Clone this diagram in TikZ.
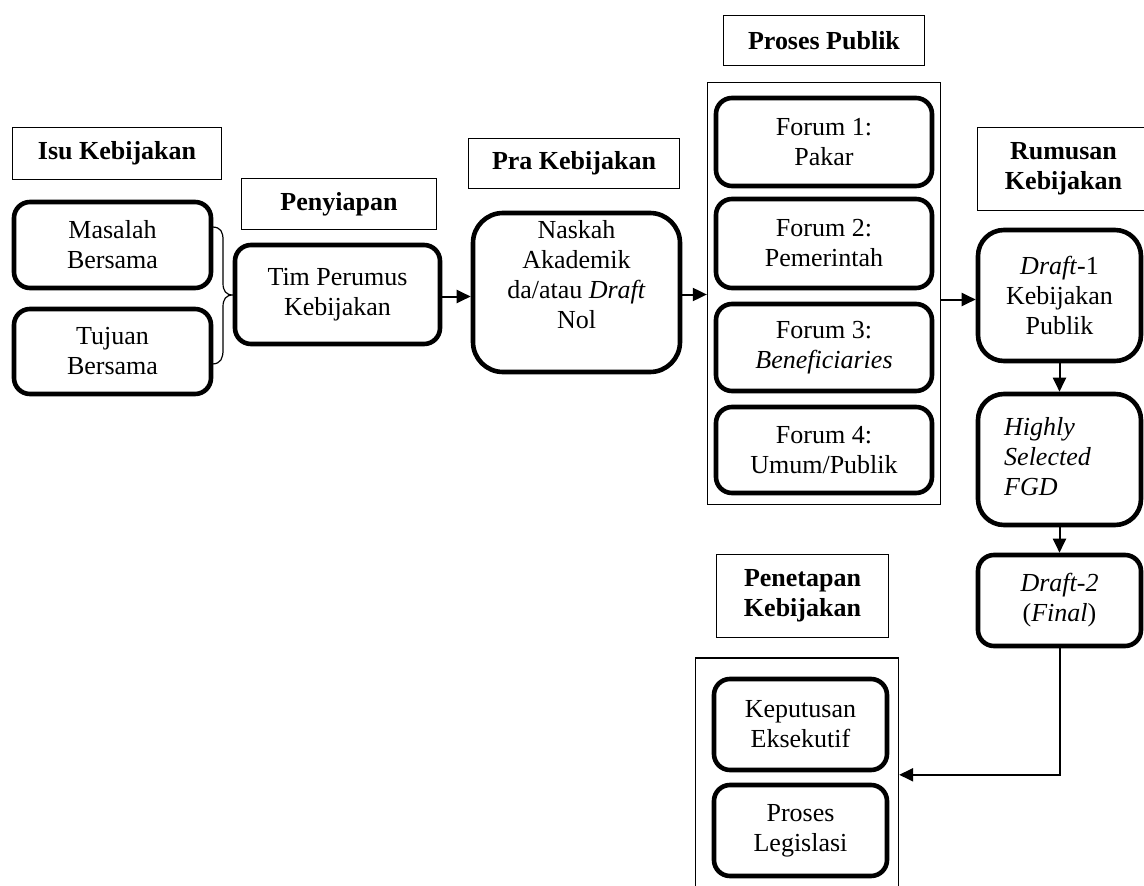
\documentclass[tikz,border=0pt]{standalone}
\usepackage{fontspec}
\setmainfont{Liberation Serif}
\usetikzlibrary{arrows.meta,calc}
\begin{document}
\begin{tikzpicture}[x=1pt,y=-1pt,
  txt/.style={font=\fontsize{26}{30}\selectfont, align=center, inner sep=0pt},
  headbox/.style={draw, line width=1.3pt, txt, font=\fontsize{26}{30}\selectfont\bfseries},
  framebox/.style={draw, line width=1.3pt, inner sep=0pt},
  stepbox/.style={draw, line width=4.6pt, rounded corners=16pt, txt},
  flow/.style={line width=2pt, -{Triangle[length=14pt,width=13pt]}},
  bracecurve/.style={line width=1.2pt}
]
\useasboundingbox (0,0) rectangle (1144,886);

% --- headings
\node[headbox, minimum width=209pt, minimum height=52pt] (isu) at (117,153.5) {Isu Kebijakan};
\node[headbox, minimum width=195pt, minimum height=51pt] (pen) at (339,204) {Penyiapan};
\node[headbox, minimum width=211pt, minimum height=50pt] (pra) at (574,163.5) {Pra Kebijakan};
\node[headbox, minimum width=201pt, minimum height=50pt] (pp) at (824,40.5) {Proses Publik};
\node[headbox, minimum width=172pt, minimum height=83pt] (rum) at (1063.5,169) {Rumusan\\Kebijakan};
\node[headbox, minimum width=172pt, minimum height=83pt] (pnt) at (802.5,596) {Penetapan\\Kebijakan};

% --- frames around grouped steps
\node[framebox, minimum width=233pt, minimum height=422pt] (ppc) at (824,293.5) {};
\node[framebox, minimum width=203pt, minimum height=242pt] (pnc) at (797,779) {};

% --- issue boxes
\node[stepbox, minimum width=197pt, minimum height=86pt] (mas) at (112.5,245) {Masalah\\Bersama};
\node[stepbox, minimum width=197pt, minimum height=85pt] (tuj) at (112.5,351.5) {Tujuan\\Bersama};

% --- brace joining the two issue boxes
\draw[bracecurve] (212,227) .. controls (221,227) and (223,232) .. (223,240)
  -- (223,283) .. controls (223,291) and (226,295) .. (233,295)
  .. controls (226,295) and (223,299) .. (223,307)
  -- (223,350) .. controls (223,358) and (221,364) .. (212,364);

% --- main chain
\node[stepbox, minimum width=205pt, minimum height=99pt] (tim) at (337.5,294.5) {Tim Perumus\\Kebijakan};
\node[stepbox, rounded corners=30pt, minimum width=207pt, minimum height=159pt] (nas) at (576.5,292.5) {};
\node[txt] (nasT) at (576.5,275) {Naskah\\Akademik\\da/atau \textit{Draft}\\Nol};

\node[stepbox, minimum width=216pt, minimum height=88pt] (f1) at (824,142) {Forum 1:\\Pakar};
\node[stepbox, minimum width=216pt, minimum height=89pt] (f2) at (824,243.5) {Forum 2:\\Pemerintah};
\node[stepbox, minimum width=216pt, minimum height=87pt] (f3) at (824,347.5) {Forum 3:\\\textit{Beneficiaries}};
\node[stepbox, minimum width=216pt, minimum height=86pt] (f4) at (824,450) {Forum 4:\\Umum/Publik};

\node[stepbox, rounded corners=26pt, minimum width=163pt, minimum height=131pt] (d1) at (1059.5,295.5) {\textit{Draft}-1\\Kebijakan\\Publik};
\node[stepbox, rounded corners=26pt, minimum width=163pt, minimum height=131pt] (fgd) at (1059.5,459.5) {};
\node[txt, anchor=west, align=left] (fgdT) at (1004,457) {\textit{Highly}\\\textit{Selected}\\\textit{FGD}};
\node[stepbox, minimum width=163pt, minimum height=91pt] (d2) at (1059.5,600.5) {\textit{Draft-2}\\(\textit{Final})};

\node[stepbox, minimum width=173pt, minimum height=91pt] (kep) at (800.5,724.5) {Keputusan\\Eksekutif};
\node[stepbox, minimum width=173pt, minimum height=91pt] (leg) at (800.5,830.5) {Proses\\Legislasi};

% --- connectors
\draw[flow] ([yshift=-2pt]tim.east) -- ([yshift=-2pt]tim.east -| nas.west);
\draw[flow] ([yshift=-2pt]nas.east) -- ([yshift=-2pt]nas.east -| ppc.west);
\draw[flow] ([yshift=-4pt]d1.west -| ppc.east) -- ([yshift=-4pt]d1.west);
\draw[flow] (d1.south) -- (fgd.north);
\draw[flow] (fgd.south) -- (d2.north);
\coordinate (turn) at ($(d2.south)+(0,126.5)$);
\draw[flow] (d2.south) -- (turn) -- (turn -| pnc.east);
\end{tikzpicture}
\end{document}
